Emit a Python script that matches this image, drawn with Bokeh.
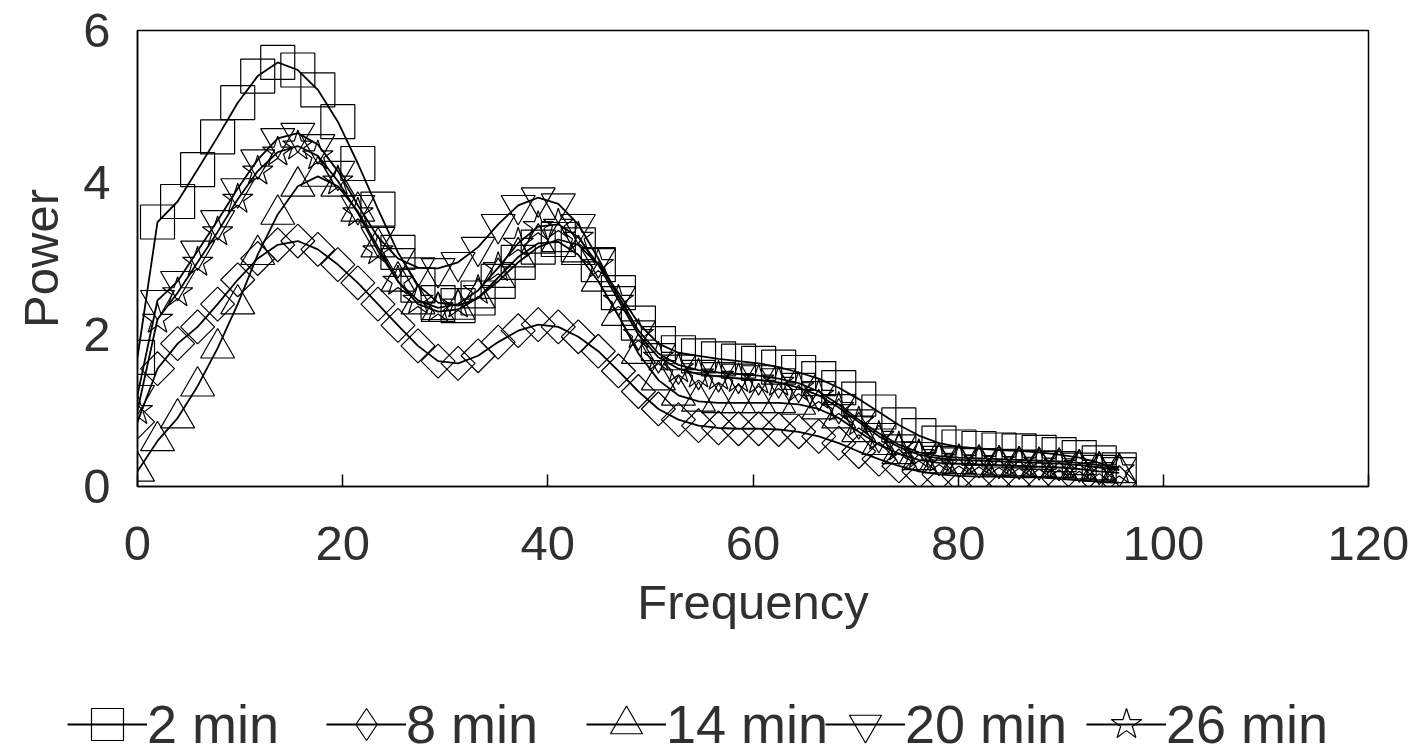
import math
from bokeh.plotting import figure
from bokeh.models import Legend, LegendItem, FixedTicker, Range1d, ColumnDataSource
from bokeh.embed import file_html
from bokeh.resources import INLINE

# ---------------- data ----------------
freq = [0.0, 1.95, 3.91, 5.86, 7.81, 9.77, 11.72, 13.67, 15.63, 17.58,
        19.53, 21.48, 23.44, 25.39, 27.34, 29.30, 31.25, 33.20, 35.16, 37.11,
        39.06, 41.02, 42.97, 44.92, 46.88, 48.83, 50.78, 52.73, 54.69, 56.64,
        58.59, 60.55, 62.50, 64.45, 66.41, 68.36, 70.31, 72.27, 74.22, 76.17,
        78.13, 80.08, 82.03, 83.98, 85.94, 87.89, 89.84, 91.80, 93.75, 95.70]

power_2min = [1.70, 3.48, 3.75, 4.17, 4.60, 5.05, 5.40, 5.58, 5.48, 5.22,
              4.80, 4.25, 3.65, 3.08, 2.65, 2.42, 2.38, 2.48, 2.70, 2.95,
              3.15, 3.25, 3.18, 2.92, 2.55, 2.15, 1.88, 1.76, 1.72, 1.68,
              1.65, 1.62, 1.57, 1.50, 1.42, 1.30, 1.15, 0.98, 0.81, 0.67,
              0.57, 0.52, 0.50, 0.48, 0.47, 0.45, 0.42, 0.38, 0.31, 0.22]

power_8min = [0.85, 1.55, 1.88, 2.10, 2.40, 2.72, 3.00, 3.18, 3.23, 3.12,
              2.92, 2.68, 2.40, 2.12, 1.85, 1.65, 1.62, 1.72, 1.90, 2.05,
              2.13, 2.10, 1.97, 1.78, 1.52, 1.25, 1.02, 0.88, 0.80, 0.77,
              0.76, 0.76, 0.75, 0.72, 0.66, 0.57, 0.46, 0.36, 0.27, 0.20,
              0.16, 0.14, 0.13, 0.13, 0.12, 0.12, 0.10, 0.08, 0.06, 0.05]

power_14min = [0.20, 0.60, 0.90, 1.32, 1.82, 2.40, 3.05, 3.58, 3.95, 4.08,
               3.95, 3.62, 3.15, 2.70, 2.40, 2.30, 2.33, 2.48, 2.75, 3.02,
               3.20, 3.22, 3.05, 2.70, 2.25, 1.75, 1.40, 1.20, 1.12, 1.10,
               1.10, 1.10, 1.10, 1.08, 1.02, 0.90, 0.72, 0.55, 0.43, 0.35,
               0.31, 0.30, 0.29, 0.28, 0.27, 0.26, 0.25, 0.23, 0.20, 0.18]

power_20min = [1.20, 2.45, 2.70, 3.10, 3.50, 3.92, 4.30, 4.58, 4.65, 4.50,
               4.15, 3.70, 3.28, 3.00, 2.88, 2.87, 2.95, 3.15, 3.45, 3.70,
               3.80, 3.72, 3.45, 3.00, 2.50, 2.05, 1.75, 1.60, 1.53, 1.50,
               1.48, 1.46, 1.42, 1.36, 1.25, 1.08, 0.88, 0.70, 0.55, 0.45,
               0.40, 0.38, 0.37, 0.36, 0.35, 0.34, 0.33, 0.31, 0.28, 0.25]

power_26min = [1.00, 2.20, 2.55, 2.95, 3.35, 3.78, 4.15, 4.40, 4.48, 4.35,
               4.02, 3.60, 3.10, 2.70, 2.45, 2.35, 2.40, 2.58, 2.88, 3.20,
               3.42, 3.45, 3.28, 2.92, 2.45, 2.00, 1.70, 1.55, 1.48, 1.45,
               1.42, 1.40, 1.37, 1.30, 1.20, 1.04, 0.85, 0.66, 0.52, 0.42,
               0.37, 0.35, 0.34, 0.33, 0.32, 0.31, 0.30, 0.28, 0.25, 0.22]

series_labels = ["2 min", "8 min", "14 min", "20 min", "26 min"]
x_ticks = [0, 20, 40, 60, 80, 100, 120]
y_ticks = [0, 2, 4, 6]

# ---------------- styling ----------------
FONT = "Liberation Sans"
TXT = "#303030"
# (plot marker, size, angle, legend-key marker)
markers = [("square", 34, 0.0, "square"),
           ("square", 24, math.pi / 4, "diamond"),
           ("triangle", 34, 0.0, "triangle"),
           ("inverted_triangle", 34, 0.0, "inverted_triangle"),
           ("star", 32, 0.0, "star")]
MAIN_H = 660
LEG_H = 754 - MAIN_H
legend_left = [67, 326, 586, 825, 1086]   # screen px of each legend entry
legend_bottom = -10                        # screen px from strip bottom

p = figure(width=1415, height=MAIN_H,
           x_range=Range1d(0, 120), y_range=Range1d(0, 6),
           output_backend="svg", toolbar_location=None,
           min_border_left=137, min_border_right=47,
           min_border_top=30, min_border_bottom=MAIN_H - 486,
           x_axis_label="Frequency", y_axis_label="Power")

p.background_fill_color = "white"
p.border_fill_color = "white"
p.outline_line_color = "black"
p.outline_line_width = 1.5
p.xgrid.visible = False
p.ygrid.visible = False

for ax in (p.xaxis[0], p.yaxis[0]):
    ax.axis_line_color = "black"
    ax.axis_line_width = 1.5
    ax.minor_tick_line_color = None
    ax.major_label_text_font = FONT
    ax.major_label_text_font_size = "49px"
    ax.major_label_text_color = TXT
    ax.axis_label_text_font = FONT
    ax.axis_label_text_font_size = "49px"
    ax.axis_label_text_font_style = "normal"
    ax.axis_label_text_color = TXT

p.xaxis.ticker = FixedTicker(ticks=x_ticks)
p.yaxis.ticker = FixedTicker(ticks=y_ticks)
p.xaxis.major_tick_in = 12
p.xaxis.major_tick_out = 0
p.xaxis.major_tick_line_color = "black"
p.xaxis.major_tick_line_width = 1.5
p.xaxis.major_label_standoff = 40
p.xaxis.axis_label_standoff = 12
p.yaxis.major_tick_in = 0
p.yaxis.major_tick_out = 0
p.yaxis.major_tick_line_color = None
p.yaxis.major_label_standoff = 27
p.yaxis.axis_label_standoff = 12

# legend strip below the chart: its ranges lie outside the data, so only the
# legend keys (drawn from the same sources and styles) are visible there
lg = figure(width=1415, height=LEG_H, x_range=Range1d(500, 501), y_range=Range1d(500, 501),
            output_backend="svg", toolbar_location=None,
            x_axis_type=None, y_axis_type=None,
            min_border_left=0, min_border_right=0, min_border_top=0, min_border_bottom=0)
lg.outline_line_color = None
lg.xgrid.visible = False
lg.ygrid.visible = False
lg.background_fill_color = "white"
lg.border_fill_color = "white"

all_series = [power_2min, power_8min, power_14min, power_20min, power_26min]

for label, ys, (mk, sz, ang, key_mk), lx in zip(series_labels, all_series, markers, legend_left):
    src = ColumnDataSource(dict(x=freq, y=ys))
    line_kw = dict(line_color="black", line_width=1.8)
    mark_kw = dict(size=sz, line_color="black", line_width=1.2, fill_alpha=0)
    p.line("x", "y", source=src, **line_kw)
    p.scatter("x", "y", source=src, marker=mk, angle=ang, **mark_kw)
    kl = lg.line("x", "y", source=src, **line_kw)
    ks = lg.scatter("x", "y", source=src, marker=key_mk, **mark_kw)
    leg = Legend(items=[LegendItem(label=label, renderers=[kl, ks])],
                 location=(lx, legend_bottom), orientation="horizontal",
                 glyph_width=80, glyph_height=80, label_standoff=0,
                 label_text_font=FONT, label_text_font_size="54px",
                 label_text_color=TXT, label_height=60,
                 padding=0, margin=0, spacing=0,
                 border_line_color=None, background_fill_alpha=0)
    lg.add_layout(leg, "center")

open("out.html", "w").write(file_html([p, lg], INLINE))
